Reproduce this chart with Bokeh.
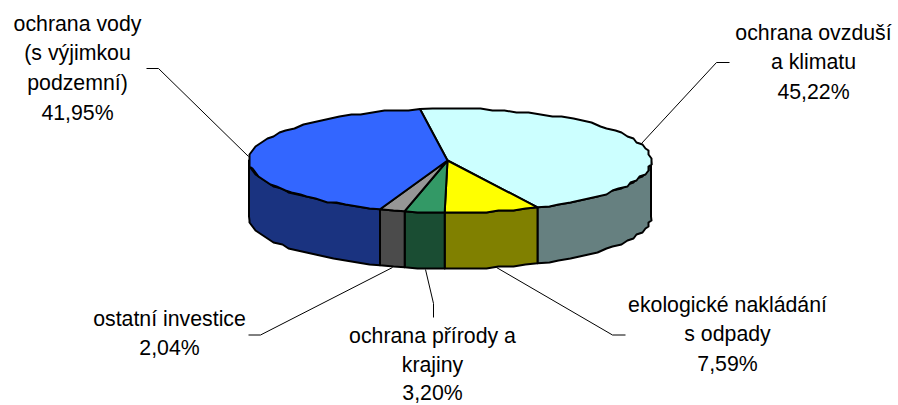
from bokeh.plotting import figure
from bokeh.models import Range1d
from bokeh.core.properties import value
from bokeh.embed import file_html
from bokeh.resources import INLINE
import numpy as np

categories = ["ochrana ovzduší\na klimatu", "ekologické nakládání\ns odpady",
              "ochrana přírody a\nkrajiny", "ostatní investice", "ochrana vody\n(s výjimkou\npodzemní)"]
percent_labels = ["45,22%", "7,59%", "3,20%", "2,04%", "41,95%"]
shares = [45.22, 7.59, 3.20, 2.04, 41.95]
top_colors = ["#CCFFFF", "#FFFF00", "#339966", "#969696", "#3366FF"]
side_colors = ["#668080", "#808000", "#1A4D33", "#4B4B4B", "#1A3380"]

# layout, in page pixels
CX, CY, RX, RY, DEPTH = 449.5, 160, 201, 52, 56
START = 98.6
label_x = [813, 727, 432, 169, 77]
label_y = [32, 304, 335.5, 318, 23]
label_step = [29.8, 29.8, 28.7, 29.8, 29.8]
leader_x = [[729, 716, 641], [625, 612, 496], [433, 433, 425], [248, 260, 392], [146, 158, 248]]
leader_y = [[62, 62, 143], [334.5, 334.5, 267], [317, 303, 269], [334.5, 334.5, 267], [68, 68, 156]]

p = figure(width=898, height=405, x_range=Range1d(0, 898), y_range=Range1d(405, 0),
           output_backend="svg", toolbar_location=None, min_border=0,
           outline_line_color=None, background_fill_color="white", border_fill_color="white")
p.axis.visible = False
p.xaxis.visible = False
p.yaxis.visible = False
p.grid.visible = False


def arc(a, b, dy=0.0):
    # coarse, snapped rim: the reference's outline is a rough low-resolution polygon
    n = max(2, int(abs(b - a) / 3.5) + 1)
    t = np.radians(np.linspace(a, b, n))
    x = CX + RX * np.cos(t)
    y = CY - RY * np.sin(t)
    x[1:-1] = np.round(x[1:-1] / 3) * 3
    y[1:-1] = np.round(y[1:-1] / 2) * 2
    return x, y + dy


angles = START - np.cumsum([0] + shares) * 3.6
top_x, top_y, top_c, side_x, side_y, side_c = [], [], [], [], [], []
for i in range(len(shares)):
    a, b = angles[i], angles[i + 1]
    x, y = arc(a, b)
    top_x.append(np.r_[CX - 2.5, x])
    top_y.append(np.r_[CY, y])
    top_c.append(top_colors[i])
    # visible part of the wall: the front half of the rim, 0 to -180 degrees
    lo, hi = max(b, -180.0), min(a, 0.0)
    if lo < hi:
        sx, sy = arc(hi, lo)
        bx, by = arc(lo, hi, DEPTH)
        side_x.append(np.r_[sx, bx])
        side_y.append(np.r_[sy, by])
        side_c.append(side_colors[i])

p.multi_line(leader_x, leader_y, line_color="#000000", line_width=1)
p.patches(side_x, side_y, fill_color=side_c, line_color="#000000", line_width=2, line_join="round")
p.patches(top_x, top_y, fill_color=top_c, line_color="#000000", line_width=2, line_join="round")

tx, ty, tt = [], [], []
for i, (c, pct) in enumerate(zip(categories, percent_labels)):
    for j, line in enumerate(c.split("\n") + [pct]):
        tx.append(label_x[i])
        ty.append(label_y[i] + j * label_step[i])
        tt.append(line)
p.text(tx, ty, text=tt, text_align="center", text_baseline="middle", text_color="#000000",
       text_font=value("Liberation Sans"), text_font_size="21.3px")

open("out.html", "w").write(file_html(p, INLINE))
